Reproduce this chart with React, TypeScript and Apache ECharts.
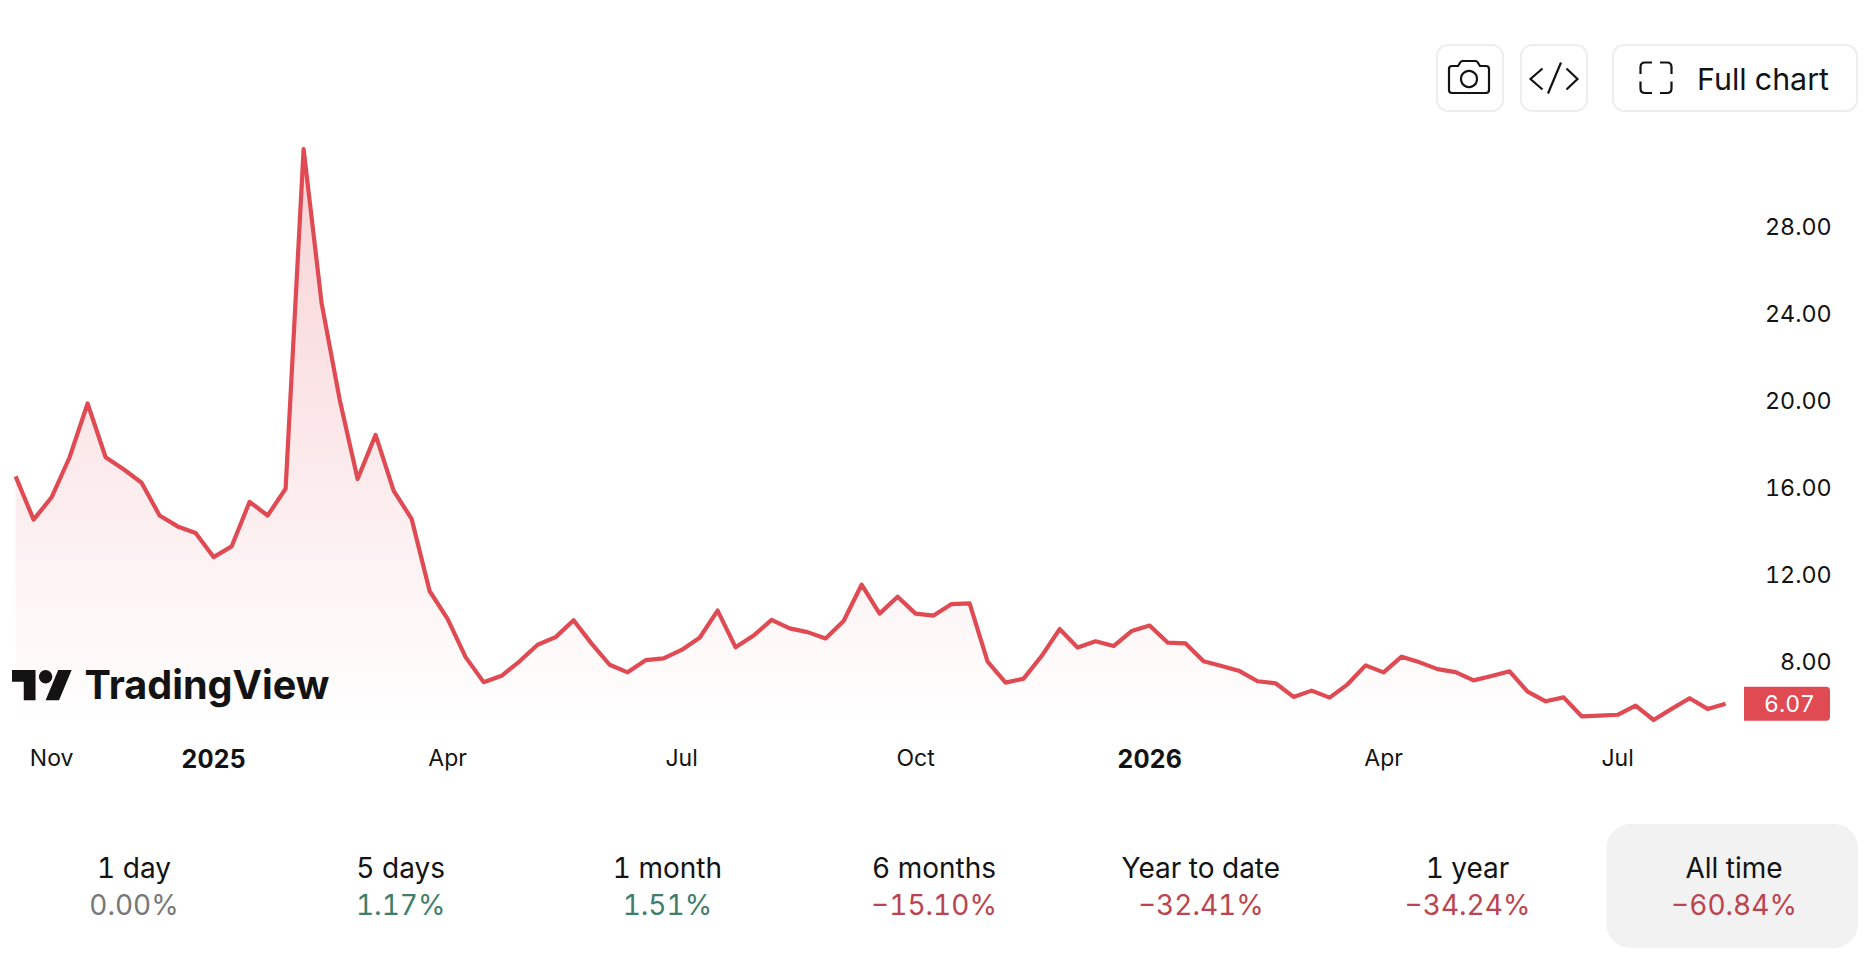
import React, { useEffect, useRef } from "react";
import * as echarts from "echarts";

const FONT = "Inter, 'Noto Sans', sans-serif";
const INK = "#131313";
const LINE = "#DF4A53";

const firstWeek = "2024-10-21";
const closes = [
  16.52, 14.53, 15.56, 17.4, 19.87, 17.4, 16.85, 16.23, 14.72, 14.22, 13.92, 12.81,
  13.3, 15.35, 14.72, 15.95, 31.57, 24.49, 20.07, 16.4, 18.43, 15.87, 14.57, 11.25,
  9.97, 8.21, 7.06, 7.35, 8.02, 8.78, 9.13, 9.91, 8.83, 7.86, 7.51, 8.07,
  8.15, 8.54, 9.1, 10.35, 8.66, 9.2, 9.92, 9.53, 9.36, 9.07, 9.87, 11.54,
  10.21, 10.99, 10.21, 10.12, 10.65, 10.68, 8.0, 7.04, 7.22, 8.26, 9.5, 8.65,
  8.94, 8.72, 9.41, 9.66, 8.88, 8.84, 8.02, 7.8, 7.57, 7.1, 7.01, 6.38,
  6.67, 6.35, 6.96, 7.83, 7.51, 8.23, 7.97, 7.66, 7.52, 7.14, 7.34, 7.56,
  6.62, 6.18, 6.36, 5.49, 5.52, 5.56, 5.98, 5.32, 5.83, 6.32, 5.83, 6.07,
];
const weeks = closes.map((_, i) =>
  new Date(Date.parse(firstWeek + "T00:00:00Z") + i * 7 * 86400000).toISOString().slice(0, 10)
);

const monthTicks: Record<string, string> = {
  "2024-11-04": "Nov",
  "2025-04-07": "Apr",
  "2025-07-07": "Jul",
  "2025-10-06": "Oct",
  "2026-04-06": "Apr",
  "2026-07-06": "Jul",
};
const yearTicks: Record<string, string> = {
  "2025-01-06": "2025",
  "2026-01-05": "2026",
};
const priceTicks = [8, 12, 16, 20, 24, 28];

const periods = ["1 day", "5 days", "1 month", "6 months", "Year to date", "1 year", "All time"];
const changes = ["0.00%", "1.17%", "1.51%", "\u221215.10%", "\u221232.41%", "\u221234.24%", "\u221260.84%"];
const changeColors = ["#787878", "#3F7E6B", "#3F7E6B", "#BB4450", "#BB4450", "#BB4450", "#BB4450"];

echarts.graphic.registerShape(
  "tvMark",
  echarts.graphic.extendPath(
    "M14 22H7V11H0V4h14v18zM28 22h-8l7.5-18h8L28 22zM24 8a4 4 0 1 1-8 0a4 4 0 1 1 8 0z",
    {}
  )
);
echarts.graphic.registerShape(
  "cameraIcon",
  echarts.graphic.extendPath(
    "M1452 66H1458L1460.5 62Q1461 61 1462.5 61H1475.5Q1477 61 1477.5 62L1480 66H1486Q1489 66 1489 69V90Q1489 93 1486 93H1452Q1449 93 1449 90V69Q1449 66 1452 66Z",
    {}
  )
);
echarts.graphic.registerShape(
  "codeIcon",
  echarts.graphic.extendPath(
    "M1542.5 68.5L1530.5 79L1542.5 89.5M1561 62.5L1548 93.5M1566.5 68.5L1577.5 79L1566.5 89.5",
    {}
  )
);
echarts.graphic.registerShape(
  "fullIcon",
  echarts.graphic.extendPath(
    "M1640.5 74V67Q1640.5 62.5 1645 62.5H1652M1660 62.5H1667Q1671.5 62.5 1671.5 67V74M1671.5 81.5V88.5Q1671.5 93 1667 93H1660M1652 93H1645Q1640.5 93 1640.5 88.5V81.5",
    {}
  )
);

function buttonRect(x: number, width: number) {
  return {
    type: "rect",
    shape: { x, y: 45, width, height: 66, r: 11 },
    style: { fill: "#fff", stroke: "#EEEEEE", lineWidth: 2 },
    z: 100,
  };
}

function bottomRow() {
  const centers = [134, 400.7, 667.4, 934, 1200.8, 1467.5, 1734];
  const out: any[] = [
    {
      type: "rect",
      shape: { x: 1606.5, y: 824, width: 251.5, height: 124, r: 24 },
      style: { fill: "#F2F2F2" },
      z: 100,
    },
  ];
  periods.forEach((p, i) => {
    out.push({
      type: "text",
      x: centers[i],
      y: 868,
      z: 101,
      style: { text: p, fill: INK, fontSize: 28, fontFamily: FONT, align: "center", verticalAlign: "middle" },
    });
    out.push({
      type: "text",
      x: centers[i],
      y: 905,
      z: 101,
      style: { text: changes[i], fill: changeColors[i], fontSize: 28, fontFamily: FONT, align: "center", verticalAlign: "middle" },
    });
  });
  return out;
}

export default function App() {
  const ref = useRef<HTMLDivElement>(null);
  useEffect(() => {
    const chart = echarts.init(ref.current!, undefined, { renderer: "svg" });
    chart.setOption({
      animation: false,
      backgroundColor: "#fff",
      grid: { left: 15.6, top: 139.7, width: 1710, height: 587.25, containLabel: false },
      xAxis: {
        type: "category",
        data: weeks,
        boundaryGap: false,
        axisLine: { show: false },
        axisTick: { show: false },
        splitLine: { show: false },
        axisLabel: {
          interval: (_: number, v: string) => v in monthTicks || v in yearTicks,
          margin: 20,
          hideOverlap: false,
          color: INK,
          fontFamily: FONT,
          fontSize: 23,
          formatter: (v: string) => (v in yearTicks ? `{y|${yearTicks[v]}}` : monthTicks[v] ?? ""),
          rich: { y: { fontFamily: FONT, fontSize: 25, fontWeight: 700, color: INK } },
        },
      },
      yAxis: {
        type: "value",
        position: "right",
        min: 5,
        max: 32,
        axisLine: { show: false },
        axisTick: { show: false },
        splitLine: { show: false },
        axisLabel: {
          customValues: priceTicks,
          margin: 106,
          align: "right",
          color: INK,
          fontFamily: FONT,
          fontSize: 23.3,
          formatter: (v: number) => v.toFixed(2),
        },
      },
      series: [
        {
          type: "line",
          data: closes,
          symbol: "none",
          showSymbol: false,
          clip: false,
          lineStyle: { color: LINE, width: 4.2, join: "round", cap: "butt" },
          areaStyle: {
            color: new echarts.graphic.LinearGradient(0, 0, 0, 1, [
              { offset: 0, color: "rgba(224,76,86,0.36)" },
              { offset: 1, color: "rgba(224,76,86,0)" },
            ]),
          },
          markPoint: {
            symbol: "rect",
            symbolSize: 0,
            silent: true,
            data: [{ coord: [weeks[weeks.length - 1], closes[closes.length - 1]] }],
            label: {
              show: true,
              formatter: closes[closes.length - 1].toFixed(2),
              position: "inside",
              offset: [61.4, 0],
              width: 81,
              height: 34,
              lineHeight: 34,
              padding: [0, 0, 0, 5],
              align: "center",
              verticalAlign: "middle",
              backgroundColor: LINE,
              borderRadius: [0, 4, 4, 0],
              color: "#fff",
              fontFamily: FONT,
              fontSize: 23,
            },
          },
        },
      ],
      graphic: {
        elements: [
          {
            type: "tvMark",
            x: 12,
            y: 663.3,
            scaleX: 1.68,
            scaleY: 1.675,
            z: 100,
            style: { fill: "#131313" },
          },
          {
            type: "text",
            x: 84.5,
            y: 685,
            z: 100,
            style: {
              text: "TradingView",
              fill: "#131313",
              fontSize: 39.6,
              fontWeight: 700,
              fontFamily: FONT,
              align: "left",
              verticalAlign: "middle",
            },
          },
          buttonRect(1437, 66),
          buttonRect(1521, 66),
          buttonRect(1613, 244),
          { type: "cameraIcon", z: 101, style: { fill: "none", stroke: INK, lineWidth: 2.2 } },
          { type: "circle", z: 101, shape: { cx: 1469, cy: 79, r: 8 }, style: { fill: "none", stroke: INK, lineWidth: 2.2 } },
          { type: "codeIcon", z: 101, style: { fill: "none", stroke: INK, lineWidth: 2.2 } },
          { type: "fullIcon", z: 101, style: { fill: "none", stroke: INK, lineWidth: 2.2 } },
          {
            type: "text",
            x: 1697,
            y: 79,
            z: 101,
            style: { text: "Full chart", fill: INK, fontSize: 30.4, fontFamily: FONT, align: "left", verticalAlign: "middle" },
          },
          ...bottomRow(),
        ],
      },
    });
    return () => chart.dispose();
  }, []);
  return (
    <>
      <style>{"svg text { font-feature-settings: 'tnum' 1 !important; font-variant-numeric: tabular-nums !important; }"}</style>
      <div
        ref={ref}
        style={{ position: "fixed", left: 0, top: 0, width: 1874, height: 972, background: "#fff" }}
      />
    </>
  );
}
